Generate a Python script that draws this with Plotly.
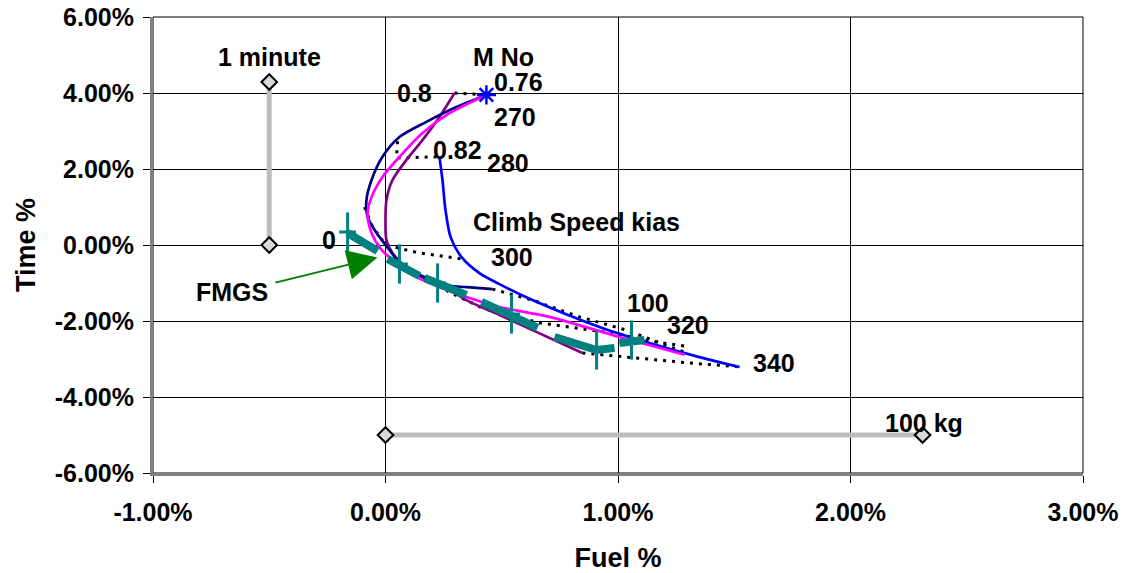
import plotly.graph_objects as go

# ---------------- data (values in percent) ----------------
navy_x = [0.434, 0.305, 0.176, 0.060, -0.013, -0.060, -0.082, -0.077, -0.039, 0.017, 0.060, 0.159, 0.245, 0.348, 0.460]
navy_y = [3.95, 3.63, 3.24, 2.84, 2.32, 1.71, 1.18, 0.74, 0.32, -0.13, -0.47, -0.84, -1.05, -1.11, -1.16]

magenta_x = [0.434, 0.275, 0.159, 0.060, -0.013, -0.060, -0.077, -0.060, -0.017, 0.047, 0.133, 0.348, 0.490, 0.705, 1.006, 1.286]
magenta_y = [3.95, 3.47, 2.95, 2.32, 1.79, 1.26, 0.84, 0.32, -0.13, -0.47, -0.84, -1.37, -1.63, -1.89, -2.42, -2.89]

purple_x = [0.297, 0.232, 0.159, 0.090, 0.030, 0.004, 0.000, 0.004, 0.030, 0.103, 0.232, 0.348, 0.490, 0.632, 0.847]
purple_y = [4.00, 3.37, 2.76, 2.24, 1.71, 1.18, 0.66, 0.13, -0.21, -0.66, -1.00, -1.45, -1.84, -2.24, -2.84]

blue_x = [0.232, 0.245, 0.258, 0.280, 0.327, 0.404, 0.490, 0.632, 0.920, 1.135, 1.350, 1.523]
blue_y = [2.32, 1.71, 0.92, 0.21, -0.32, -0.74, -1.03, -1.45, -2.16, -2.58, -2.95, -3.21]

star_x = [0.434]
star_y = [3.95]

# dotted constant-speed / constant-Mach lines
dot_m080_x = [0.297, 0.434]
dot_m080_y = [4.00, 3.95]
dot_m082_x = [0.052, 0.047, 0.219]
dot_m082_y = [2.73, 2.29, 2.32]
dot_300_x = [-0.090, -0.060, 0.000, 0.146, 0.331]
dot_300_y = [1.00, 0.53, 0.00, -0.21, -0.37]
dot_320_x = [0.460, 0.632, 0.834, 1.036, 1.294]
dot_320_y = [-1.16, -1.45, -1.89, -2.24, -2.84]
dot_mid_x = [0.060, 0.275, 0.417, 0.662, 0.976, 1.165, 1.307]
dot_mid_y = [-0.47, -1.24, -1.66, -2.05, -2.32, -2.55, -2.68]
dot_340_x = [0.847, 1.062, 1.264, 1.523]
dot_340_y = [-2.84, -2.97, -3.08, -3.21]

# FMGS segments (teal)
fmgs_x = [-0.163, -0.034, None, 0.009, 0.146, None, 0.168, 0.348, None, 0.413, 0.654, None, 0.727, 0.908, 0.985, None, 1.006, 1.114]
fmgs_y = [0.316, -0.158, None, -0.368, -0.816, None, -0.868, -1.316, None, -1.500, -2.184, None, -2.421, -2.763, -2.711, None, -2.579, -2.500]
fmgs_mark_x = [-0.163, 0.060, 0.224, 0.542, 0.908, 1.058]
fmgs_mark_y = [0.342, -0.500, -1.000, -1.816, -2.763, -2.500]

# scale bars
minute_x = [-0.5, -0.5]
minute_y = [0.0, 4.29]
kg_x = [0.0, 2.31]
kg_y = [-5.0, -5.0]

# text labels
label_text = ["M No", "0.76", "270", "0.8", "0.82", "280", "Climb Speed kias", "300", "0",
              "FMGS", "100", "320", "340", "100 kg", "1 minute"]
label_x = [0.508, 0.572, 0.555, 0.125, 0.310, 0.529, 0.822, 0.542, -0.241,
           -0.662, 1.127, 1.303, 1.669, 2.318, -0.499]
label_y = [4.95, 4.29, 3.37, 4.00, 2.50, 2.16, 0.61, -0.32, 0.13,
           -1.24, -1.53, -2.11, -3.11, -4.68, 4.95]

x_ticks = [-1, 0, 1, 2, 3]
y_ticks = [6, 4, 2, 0, -2, -4, -6]

FONT = "Liberation Sans, Arial, sans-serif"

fig = go.Figure()

def add_line(x, y, color, width=2.7):
    fig.add_trace(go.Scatter(x=x, y=y, mode="lines",
                             line=dict(color=color, width=width, shape="spline", smoothing=0.8),
                             hoverinfo="skip", showlegend=False))

# scale bars
for bx, by in [(minute_x, minute_y), (kg_x, kg_y)]:
    fig.add_trace(go.Scatter(x=bx, y=by, mode="lines+markers",
                             line=dict(color="#BDBDBD", width=5),
                             marker=dict(symbol="diamond", size=12, color="#D9D9D9",
                                         line=dict(color="black", width=2)),
                             showlegend=False, hoverinfo="skip"))

# dotted lines
for dx, dy in [(dot_m080_x, dot_m080_y), (dot_m082_x, dot_m082_y), (dot_300_x, dot_300_y),
               (dot_320_x, dot_320_y), (dot_mid_x, dot_mid_y), (dot_340_x, dot_340_y)]:
    fig.add_trace(go.Scatter(x=dx, y=dy, mode="lines",
                             line=dict(color="black", width=3, dash="3px,6px"),
                             showlegend=False, hoverinfo="skip"))

add_line(blue_x, blue_y, "#0000FF")
add_line(purple_x, purple_y, "#800080")
add_line(navy_x, navy_y, "#000080")
add_line(magenta_x, magenta_y, "#FF00FF")

# FMGS teal
fig.add_trace(go.Scatter(x=fmgs_x, y=fmgs_y, mode="lines",
                         line=dict(color="#008080", width=8),
                         connectgaps=False, showlegend=False, hoverinfo="skip"))
fig.add_trace(go.Scatter(x=fmgs_mark_x, y=fmgs_mark_y, mode="markers",
                         marker=dict(symbol="line-ns", size=28, line=dict(color="#008080", width=3)),
                         showlegend=False, hoverinfo="skip"))
fig.add_trace(go.Scatter(x=fmgs_mark_x, y=fmgs_mark_y, mode="markers",
                         marker=dict(symbol="line-ew", size=12, line=dict(color="#008080", width=3)),
                         showlegend=False, hoverinfo="skip"))

# star
fig.add_trace(go.Scatter(x=star_x, y=star_y, mode="markers",
                         marker=dict(symbol="asterisk", size=16, color="#0000FF",
                                     line=dict(color="#0000FF", width=2.5)),
                         showlegend=False, hoverinfo="skip"))

annotations = []
for t, x, y in zip(label_text, label_x, label_y):
    annotations.append(dict(x=x, y=y, xref="x", yref="y", text=t, showarrow=False,
                            xanchor="center", yanchor="middle",
                            font=dict(family=FONT, size=25, color="black", weight="bold")))
# FMGS arrow
annotations.append(dict(x=-0.035, y=-0.33, xref="x", yref="y",
                        ax=-0.48, ay=-1.0, axref="x", ayref="y",
                        text="", showarrow=True, arrowhead=2, arrowsize=3,
                        arrowwidth=2, arrowcolor="#008000"))

fig.update_layout(
    width=1128, height=573,
    margin=dict(l=153, r=45, t=17, b=100),
    paper_bgcolor="white", plot_bgcolor="white",
    font=dict(family=FONT, size=25, color="black", weight="bold"),
    showlegend=False,
    annotations=annotations,
    shapes=[dict(type="rect", xref="paper", yref="paper", x0=0, y0=0, x1=1, y1=1,
                 line=dict(color="black", width=1), layer="below")],
    xaxis=dict(range=[-1, 3], tickvals=x_ticks, ticktext=[f"{v:.2f}%" for v in x_ticks],
               automargin=False,
               showgrid=True, gridcolor="black", gridwidth=1, zeroline=False,
               showline=True, linecolor="#808080", linewidth=3,
               ticks="outside", ticklen=7, tickcolor="black", ticklabelstandoff=8,
               tickfont=dict(family=FONT, size=25, color="black", weight="bold"),
               title=dict(text="Fuel %", standoff=25,
                          font=dict(family=FONT, size=27, color="black", weight="bold"))),
    yaxis=dict(range=[-6, 6], tickvals=y_ticks, ticktext=[f"{v:.2f}%" for v in y_ticks],
               automargin=False,
               showgrid=True, gridcolor="black", gridwidth=1, zeroline=False,
               showline=True, linecolor="#808080", linewidth=3,
               ticks="outside", ticklen=7, tickcolor="black", ticklabelstandoff=4,
               tickfont=dict(family=FONT, size=25, color="black", weight="bold"),
               title=dict(text="Time %", standoff=12,
                          font=dict(family=FONT, size=27, color="black", weight="bold"))),
)

# remove the default 8px page margin so the figure sits at the window's top-left corner
fig.write_html("out.html", config={"displayModeBar": False},
               post_script="document.body.style.margin='0';document.body.style.padding='0';")
